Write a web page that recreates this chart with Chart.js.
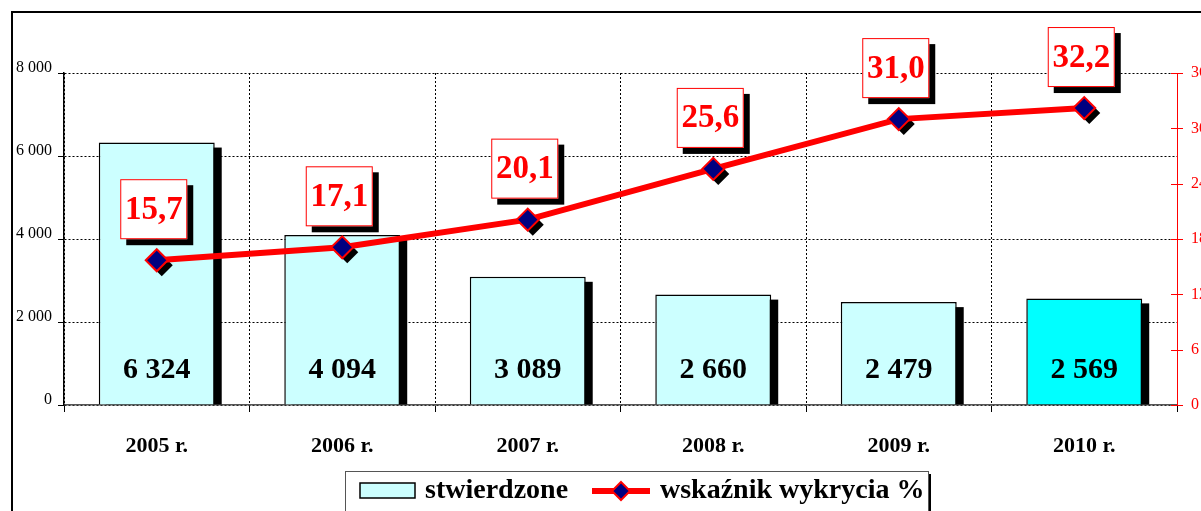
<!DOCTYPE html>
<html>
<head>
	<meta charset="UTF-8">
	<title>stwierdzone / wskaznik wykrycia</title>
	<script src="https://cdn.jsdelivr.net/npm/chart.js"></script>
	<style>
	body{margin:0; background:#fff;}
	#box{width:1201px; height:511px; position:relative;}
	</style>
</head>
<body>
	<div id="box">
	  <canvas id="myChart"></canvas>
	</div>
	<script>
	// dane z wykresu
	const years = ['2005 r.', '2006 r.', '2007 r.', '2008 r.', '2009 r.', '2010 r.'];
	const stwierdzone = [6324, 4094, 3089, 2660, 2479, 2569];
	const wskaznik = [15.7, 17.1, 20.1, 25.6, 31.0, 32.2];
	const leftTicks = [0, 2000, 4000, 6000, 8000];
	const rightTicks = [0, 6, 12, 18, 24, 30, 36];

	const SERIF = '"Liberation Serif", "Times New Roman", serif';
	const barColors = ['#ccffff', '#ccffff', '#ccffff', '#ccffff', '#ccffff', '#00ffff'];

	function spaced(v){
		return String(v).replace(/\B(?=(\d{3})+(?!\d))/g, ' ');
	}
	function comma(v){
		return v.toFixed(1).replace('.', ',');
	}
	function diamond(ctx, x, y, r){
		ctx.beginPath();
		ctx.moveTo(x, y - r);
		ctx.lineTo(x + r, y);
		ctx.lineTo(x, y + r);
		ctx.lineTo(x - r, y);
		ctx.closePath();
	}

	const extras = {
		id: 'extras',
		beforeDatasetDraw(chart, args){
			const ctx = chart.ctx;
			const meta = args.meta;
			ctx.save();
			ctx.fillStyle = '#000';
			if (args.index === 0) {
				// cien slupkow
				meta.data.forEach(function(el){
					const w = el.width;
					ctx.fillRect(el.x - w / 2 + 7, el.y + 5, w, el.base - el.y - 5);
				});
			} else {
				// cien rombow
				meta.data.forEach(function(el){
					diamond(ctx, el.x + 5, el.y + 5, 11);
					ctx.fill();
				});
			}
			ctx.restore();
		},
		afterDatasetsDraw(chart){
			const ctx = chart.ctx;
			ctx.save();
			// wartosci w slupkach
			ctx.fillStyle = '#000';
			ctx.font = 'bold 30px ' + SERIF;
			ctx.textAlign = 'center';
			ctx.textBaseline = 'middle';
			chart.getDatasetMeta(0).data.forEach(function(el, i){
				ctx.fillText(spaced(stwierdzone[i]), el.x, 370);
			});
			// etykiety wskaznika
			ctx.font = 'bold 33px ' + SERIF;
			chart.getDatasetMeta(1).data.forEach(function(el, i){
				const w = 67, h = 60;
				const bx = el.x - 3 - w / 2, by = el.y - 21 - h;
				ctx.fillStyle = '#000';
				ctx.fillRect(bx + 6, by + 6, w, h);
				ctx.fillStyle = '#fff';
				ctx.fillRect(bx, by, w, h);
				ctx.strokeStyle = '#ff0000';
				ctx.lineWidth = 1;
				ctx.strokeRect(bx + 0.5, by + 0.5, w - 1, h - 1);
				ctx.fillStyle = '#ff0000';
				ctx.fillText(comma(wskaznik[i]), bx + w / 2, by + h / 2 + 1);
			});
			ctx.restore();
		},
		afterDraw(chart){
			const ctx = chart.ctx;
			const y1 = chart.scales.y1;
			ctx.save();
			// kreski osi prawej (na wylot)
			ctx.strokeStyle = '#ff0000';
			ctx.lineWidth = 1;
			rightTicks.forEach(function(t){
				const yy = Math.round(y1.getPixelForValue(t)) + 0.5;
				ctx.beginPath();
				ctx.moveTo(y1.left - 6, yy);
				ctx.lineTo(y1.left + 6, yy);
				ctx.stroke();
			});
			// ramka
			ctx.strokeStyle = '#000';
			ctx.lineWidth = 2;
			ctx.beginPath();
			ctx.moveTo(12, 511);
			ctx.lineTo(12, 12);
			ctx.lineTo(1201, 12);
			ctx.stroke();
			// legenda
			ctx.fillStyle = '#000';
			ctx.fillRect(928, 474, 3, 40);
			ctx.fillStyle = '#fff';
			ctx.fillRect(345, 471, 583, 42);
			ctx.strokeStyle = '#555';
			ctx.lineWidth = 1;
			ctx.strokeRect(345.5, 471.5, 583, 45);
			ctx.fillStyle = '#ccffff';
			ctx.fillRect(360, 483, 55, 15);
			ctx.strokeStyle = '#000';
			ctx.lineWidth = 1.5;
			ctx.strokeRect(360, 483, 55, 15);
			ctx.fillStyle = '#000';
			ctx.font = 'bold 28px ' + SERIF;
			ctx.textAlign = 'left';
			ctx.textBaseline = 'middle';
			ctx.fillText('stwierdzone', 425, 491);
			ctx.strokeStyle = '#ff0000';
			ctx.lineWidth = 6;
			ctx.beginPath();
			ctx.moveTo(592, 491);
			ctx.lineTo(650, 491);
			ctx.stroke();
			diamond(ctx, 621, 491, 9);
			ctx.fillStyle = '#000080';
			ctx.fill();
			ctx.strokeStyle = '#ff0000';
			ctx.lineWidth = 2;
			ctx.stroke();
			ctx.fillStyle = '#000';
			ctx.fillText('wskaźnik wykrycia %', 660, 491);
			ctx.restore();
		}
	};

	const ctx = document.getElementById('myChart');
	new Chart(ctx, {
		data: {
			labels: years,
			datasets: [{
				type: 'bar',
				label: 'stwierdzone',
				data: stwierdzone,
				yAxisID: 'y',
				backgroundColor: barColors,
				borderColor: '#000',
				borderWidth: 1.5,
				barPercentage: 0.625,
				categoryPercentage: 1,
				order: 2
			}, {
				type: 'line',
				label: 'wskaźnik wykrycia %',
				data: wskaznik,
				yAxisID: 'y1',
				borderColor: '#ff0000',
				borderWidth: 6,
				pointStyle: 'rectRot',
				pointRadius: 11,
				pointBackgroundColor: '#000080',
				pointBorderColor: '#ff0000',
				pointBorderWidth: 2,
				tension: 0,
				order: 1
			}]
		},
		options: {
			responsive: true,
			maintainAspectRatio: false,
			animation: false,
			layout: { padding: { top: 73, left: 0, right: 0, bottom: 0 } },
			plugins: {
				legend: { display: false },
				tooltip: { enabled: false }
			},
			scales: {
				x: {
					offset: true,
					grid: { offset: true, color: '#000', lineWidth: 1, tickLength: 7, tickColor: '#000' },
					border: { color: '#555', width: 1.5, dash: [2, 2] },
					ticks: { color: '#000', padding: 21, font: { family: SERIF, size: 22, weight: 'bold' } },
					afterFit: function(s){ s.height = 106; }
				},
				y: {
					position: 'left',
					min: 0, max: 8000,
					afterBuildTicks: function(s){ s.ticks = leftTicks.map(v => ({ value: v })); },
					grid: { color: '#000', lineWidth: 1, tickLength: 6, tickColor: '#000' },
					border: { color: '#000', width: 1.5, dash: [2, 2] },
					ticks: {
						color: '#000', padding: 6, labelOffset: -5,
						font: { family: SERIF, size: 16 },
						callback: function(v){ return spaced(v); }
					},
					afterFit: function(s){ s.width = 64; }
				},
				y1: {
					position: 'right',
					min: 0, max: 36,
					afterBuildTicks: function(s){ s.ticks = rightTicks.map(v => ({ value: v })); },
					grid: { drawOnChartArea: false, drawTicks: false },
					border: { color: '#ff0000', width: 1 },
					ticks: { color: '#ff0000', padding: 14, font: { family: SERIF, size: 16 } },
					afterFit: function(s){ s.width = 24; }
				}
			}
		},
		plugins: [extras]
	});
	</script>
</body>
</html>
